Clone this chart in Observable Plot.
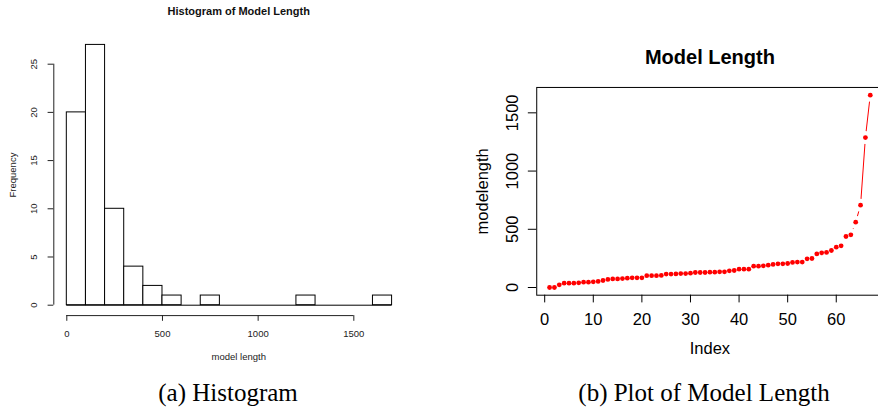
<!DOCTYPE html>
<html><head><meta charset="utf-8">
<script src="https://cdn.jsdelivr.net/npm/d3@7"></script>
<script src="https://cdn.jsdelivr.net/npm/@observablehq/plot@0.6"></script>
<style>
html,body{margin:0;padding:0;background:#fff;width:878px;height:418px;overflow:hidden;position:relative;}
#left{position:absolute;left:0;top:0;width:440px;height:370px;}
#right{position:absolute;left:440px;top:0;width:460px;height:370px;}
svg{max-width:none !important;}
.cap{position:absolute;font-family:"Liberation Serif","DejaVu Serif",serif;font-size:25px;line-height:25px;color:#000;white-space:nowrap;transform:translateX(-50%);}
</style></head><body>
<div id="left"></div><div id="right"></div>
<div class="cap" style="left:228px;top:380px">(a) Histogram</div>
<div class="cap" style="left:704px;top:380px">(b) Plot of Model Length</div>
<script>
// sorted model lengths
const modelLength = [0,0,23,37,37,37,40,46,46,49,52,60,69,74,74,77,80,83,83,83,
  102,102,102,104,115,115,117,120,120,123,129,129,129,132,132,135,135,143,146,157,157,157,183,183,186,192,198,
  203,203,206,215,218,218,246,249,289,298,
  301,318,346,358,438,452,561,707,1288,1652];
const index = modelLength.map((d, i) => i + 1);
const histBreaks = d3.range(0, 1800, 100);
const histXTicks = [0, 500, 1000, 1500];
const histYTicks = [0, 5, 10, 15, 20, 25];
const idxTicks = [0, 10, 20, 30, 40, 50, 60];
const lenTicks = [0, 500, 1000, 1500];

const font = "'Liberation Sans', Arial, Helvetica, sans-serif";
const ink = "#222";
const plain = d => String(d);

// ---------- (a) histogram ----------
const hx0 = histBreaks[0], hx1 = histBreaks[histBreaks.length - 1];
const counts = d3.bin().domain([hx0, hx1]).thresholds(histBreaks)(modelLength).map(b => b.length);
const maxCount = d3.max(counts);
const hxDom = [hx0 - 0.04 * (hx1 - hx0), hx1 + 0.04 * (hx1 - hx0)];
const hyDom = [-0.04 * maxCount, 1.04 * maxCount];

const left = Plot.plot({
  width: 440, height: 370,
  marginLeft: 53.3, marginRight: 35.4, marginTop: 34, marginBottom: 54.9,
  style: {fontFamily: font, color: ink, background: "white"},
  x: {domain: hxDom, axis: null},
  y: {domain: hyDom, axis: null},
  marks: [
    Plot.ruleY([0], {x1: hx0, x2: hx1, stroke: "#000", strokeWidth: 1}),
    Plot.rectY(modelLength, Plot.binX({y: "count"}, {x: d => d, thresholds: histBreaks, fill: "white", stroke: "#000", strokeWidth: 1, inset: 0})),
    Plot.ruleX([hxDom[0]], {y1: histYTicks[0], y2: histYTicks[histYTicks.length - 1], stroke: ink}),
    Plot.axisY({ticks: histYTicks, tickSize: 5.7, tickFormat: () => "", label: null, stroke: ink}),
    Plot.text(histYTicks, {y: d => d, text: plain, frameAnchor: "left", rotate: -90, dx: -20, fontSize: 9.5, textAnchor: "middle", lineAnchor: "middle", fill: ink}),
    Plot.ruleY([hyDom[0]], {x1: histXTicks[0], x2: histXTicks[histXTicks.length - 1], stroke: ink}),
    Plot.axisX({ticks: histXTicks, tickFormat: plain, tickSize: 5.7, tickPadding: 8.5, fontSize: 9.5, label: null, stroke: ink}),
    Plot.text(["Histogram of Model Length"], {frameAnchor: "top", dy: -22.7, dx: 9.3, fontWeight: "bold", fontSize: 11, lineAnchor: "middle", fill: "#111"}),
    Plot.text(["model length"], {frameAnchor: "bottom", dy: 40.9, dx: 9.3, fontSize: 9.5, lineAnchor: "middle", fill: ink}),
    Plot.text(["Frequency"], {frameAnchor: "left", dx: -41, rotate: -90, fontSize: 9.5, textAnchor: "middle", lineAnchor: "middle", fill: ink})
  ]
});
document.getElementById("left").appendChild(left);

// ---------- (b) index plot ----------
const n = index.length;
const ixDom = [1 - 0.04 * (n - 1), n + 0.04 * (n - 1)];
const yMax = d3.max(modelLength), yMin = d3.min(modelLength);
const iyDom = [yMin - 0.04 * (yMax - yMin), yMax + 0.04 * (yMax - yMin)];
const pts = index.map((i, k) => ({i, v: modelLength[k]}));

const right = Plot.plot({
  width: 460, height: 370,
  marginLeft: 96.23, marginRight: 17.4, marginTop: 86.95, marginBottom: 75.3,
  style: {fontFamily: font, color: "#000", background: "white"},
  x: {domain: ixDom, axis: null},
  y: {domain: iyDom, axis: null},
  marks: [
    Plot.line(pts, {x: "i", y: "v", stroke: "#ff0000", strokeWidth: 1}),
    Plot.dot(pts, {x: "i", y: "v", r: 6.5, fill: "white", stroke: "none"}),
    Plot.dot(pts, {x: "i", y: "v", r: 2.4, fill: "#ff0000", stroke: "none"}),
    Plot.frame({stroke: "#000", strokeWidth: 1}),
    Plot.axisY({ticks: lenTicks, tickSize: 8.4, tickFormat: () => "", label: null}),
    Plot.text(lenTicks, {y: d => d, text: plain, frameAnchor: "left", rotate: -90, dx: -24.5, fontSize: 16.5, textAnchor: "middle", lineAnchor: "middle"}),
    Plot.axisX({ticks: idxTicks, tickFormat: plain, tickSize: 7.7, tickPadding: 10, fontSize: 16.5, label: null}),
    Plot.text(["Model Length"], {frameAnchor: "top", dy: -30.3, fontWeight: "bold", fontSize: 20, lineAnchor: "middle"}),
    Plot.text(["Index"], {frameAnchor: "bottom", dy: 53.6, fontSize: 16.5, lineAnchor: "middle"}),
    Plot.text(["modelength"], {frameAnchor: "left", dx: -54.5, rotate: -90, fontSize: 16.5, textAnchor: "middle", lineAnchor: "middle"})
  ]
});
document.getElementById("right").appendChild(right);
</script>
</body></html>
